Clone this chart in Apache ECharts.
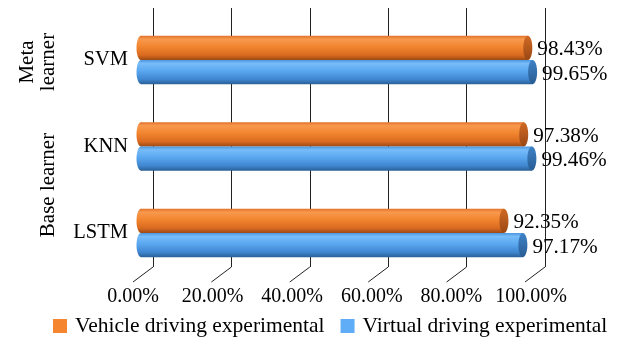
<!DOCTYPE html>
<html>
<head>
<meta charset="utf-8">
<script src="https://cdn.jsdelivr.net/npm/echarts@6/dist/echarts.min.js"></script>
<style>
  html, body { margin: 0; padding: 0; background: #fff; }
  #chart { width: 619px; height: 339px; }
</style>
</head>
<body>
<div id="chart"></div>
<script>
// Accuracy of each learner in the two driving experiments (%)
const categories = ['LSTM', 'KNN', 'SVM'];
const vehicleValues = [92.35, 97.38, 98.43];
const virtualValues = [97.17, 99.46, 99.65];
const seriesNames = ['Vehicle driving experimental', 'Virtual driving experimental'];
const xTicks = [0, 20, 40, 60, 80, 100];

const FONT_FAMILY = '"Liberation Serif", "Times New Roman", serif';
const TICK_SIZE = 20;
const CAT_SIZE = 20.5;
const VALUE_SIZE = 21.2;
const LEGEND_SIZE = 21.5;
const GROUP_FONT = '21px ' + FONT_FAMILY;

const palettes = {
  orange: {
    flat: '#F5862F',
    body: [
      { offset: 0, color: '#E2722A' },
      { offset: 0.14, color: '#F8994E' },
      { offset: 0.45, color: '#F2852F' },
      { offset: 0.8, color: '#D96A20' },
      { offset: 1, color: '#9C4914' }
    ],
    cap: [
      { offset: 0, color: '#D06A26' },
      { offset: 1, color: '#9A4713' }
    ]
  },
  blue: {
    flat: '#5FADF6',
    body: [
      { offset: 0, color: '#4A96DE' },
      { offset: 0.14, color: '#78BCF9' },
      { offset: 0.45, color: '#5AA7F0' },
      { offset: 0.8, color: '#3F86CF' },
      { offset: 1, color: '#2A5F96' }
    ],
    cap: [
      { offset: 0, color: '#3E82C6' },
      { offset: 1, color: '#285C93' }
    ]
  }
};

// Draws one horizontal cylinder per category; side -1 = upper half of the band, +1 = lower half
function cylinder(palette, side) {
  return function (params, api) {
    const val = api.value(0);
    const cat = api.value(1);
    const base = api.coord([0, cat]);
    const tip = api.coord([val, cat]);
    const band = api.size([0, 1])[1];
    const h = band * 0.28;
    const cy = base[1] + side * h / 2;
    const rx = 4.5;
    const bodyFill = new echarts.graphic.LinearGradient(0, 0, 0, 1, palette.body);
    const capFill = new echarts.graphic.LinearGradient(0, 0, 0, 1, palette.cap);
    return {
      type: 'group',
      children: [
        { type: 'ellipse', shape: { cx: base[0], cy: cy, rx: rx, ry: h / 2 }, style: { fill: bodyFill } },
        { type: 'rect', shape: { x: base[0], y: cy - h / 2, width: tip[0] - base[0], height: h }, style: { fill: bodyFill } },
        { type: 'ellipse', shape: { cx: tip[0], cy: cy, rx: rx, ry: h / 2 }, style: { fill: capFill } },
        {
          type: 'text',
          style: {
            text: val.toFixed(2) + '%',
            x: tip[0] + rx + 5,
            y: cy + 2,
            font: VALUE_SIZE + 'px ' + FONT_FAMILY,
            fill: '#000',
            align: 'left',
            verticalAlign: 'middle'
          }
        }
      ]
    };
  };
}

// Slanted floor lines running from the foot of each back-wall gridline
function floorLine(params, api) {
  const p = api.coord([api.value(0), 0]);
  return {
    type: 'line',
    shape: { x1: p[0], y1: p[1], x2: p[0] - 20, y2: p[1] + 15 },
    style: { stroke: '#222', lineWidth: 1 }
  };
}

const chart = echarts.init(document.getElementById('chart'), null, { renderer: 'canvas' });

chart.setOption({
  animation: false,
  backgroundColor: '#fff',
  textStyle: { fontFamily: FONT_FAMILY },
  grid: [
    // back wall (gridlines)
    { left: 153, width: 392, top: 8, height: 259, outerBoundsMode: 'none', containLabel: false },
    // bars
    { left: 141, width: 393, top: 16.75, height: 259.5, outerBoundsMode: 'none', containLabel: false },
    // front edge (tick labels)
    { left: 133, width: 398, top: 8, height: 274, outerBoundsMode: 'none', containLabel: false }
  ],
  legend: {
    data: seriesNames,
    left: 53,
    top: 315,
    padding: 0,
    itemWidth: 14,
    itemHeight: 14,
    itemGap: 16,
    icon: 'rect',
    textStyle: { fontFamily: FONT_FAMILY, fontSize: LEGEND_SIZE, color: '#000', padding: [0, 0, 0, 3] }
  },
  xAxis: [
    {
      gridIndex: 0, type: 'value', min: 0, max: 100, interval: 20,
      axisLine: { show: false }, axisTick: { show: false }, axisLabel: { show: false },
      splitLine: { show: true, lineStyle: { color: '#222', width: 1 } }
    },
    {
      gridIndex: 1, type: 'value', min: 0, max: 100, interval: 20,
      axisLine: { show: false }, axisTick: { show: false }, axisLabel: { show: false },
      splitLine: { show: false }
    },
    {
      gridIndex: 2, type: 'value', min: 0, max: 100, interval: 20,
      axisLine: { show: false }, axisTick: { show: false }, splitLine: { show: false },
      axisLabel: {
        show: true, margin: 5, color: '#000',
        fontFamily: FONT_FAMILY, fontSize: TICK_SIZE,
        formatter: function (v) { return v.toFixed(2) + '%'; }
      }
    }
  ],
  yAxis: [
    { gridIndex: 0, type: 'value', min: 0, max: 1, show: false },
    {
      gridIndex: 1, type: 'category', data: categories,
      axisLine: { show: false }, axisTick: { show: false }, splitLine: { show: false },
      axisLabel: { margin: 13, color: '#000', fontFamily: FONT_FAMILY, fontSize: CAT_SIZE }
    },
    { gridIndex: 2, type: 'value', min: 0, max: 1, show: false }
  ],
  graphic: [
    {
      type: 'text', x: 38, y: 62, rotation: Math.PI / 2,
      style: { text: 'Meta\nlearner', font: GROUP_FONT, lineHeight: 21, fill: '#000', align: 'center', verticalAlign: 'middle' }
    },
    {
      type: 'text', x: 48, y: 185, rotation: Math.PI / 2,
      style: { text: 'Base learner', font: GROUP_FONT, fill: '#000', align: 'center', verticalAlign: 'middle' }
    }
  ],
  series: [
    {
      name: 'floor', type: 'custom', xAxisIndex: 0, yAxisIndex: 0, silent: true, z: 1,
      data: xTicks.map(function (v) { return [v, 0]; }),
      encode: { x: 0, y: 1 },
      renderItem: floorLine
    },
    {
      name: seriesNames[0], type: 'custom', xAxisIndex: 1, yAxisIndex: 1, z: 3,
      itemStyle: { color: palettes.orange.flat },
      data: vehicleValues.map(function (v, i) { return [v, i]; }),
      encode: { x: 0, y: 1 },
      renderItem: cylinder(palettes.orange, -1)
    },
    {
      name: seriesNames[1], type: 'custom', xAxisIndex: 1, yAxisIndex: 1, z: 3,
      itemStyle: { color: palettes.blue.flat },
      data: virtualValues.map(function (v, i) { return [v, i]; }),
      encode: { x: 0, y: 1 },
      renderItem: cylinder(palettes.blue, 1)
    }
  ]
});
</script>
</body>
</html>
